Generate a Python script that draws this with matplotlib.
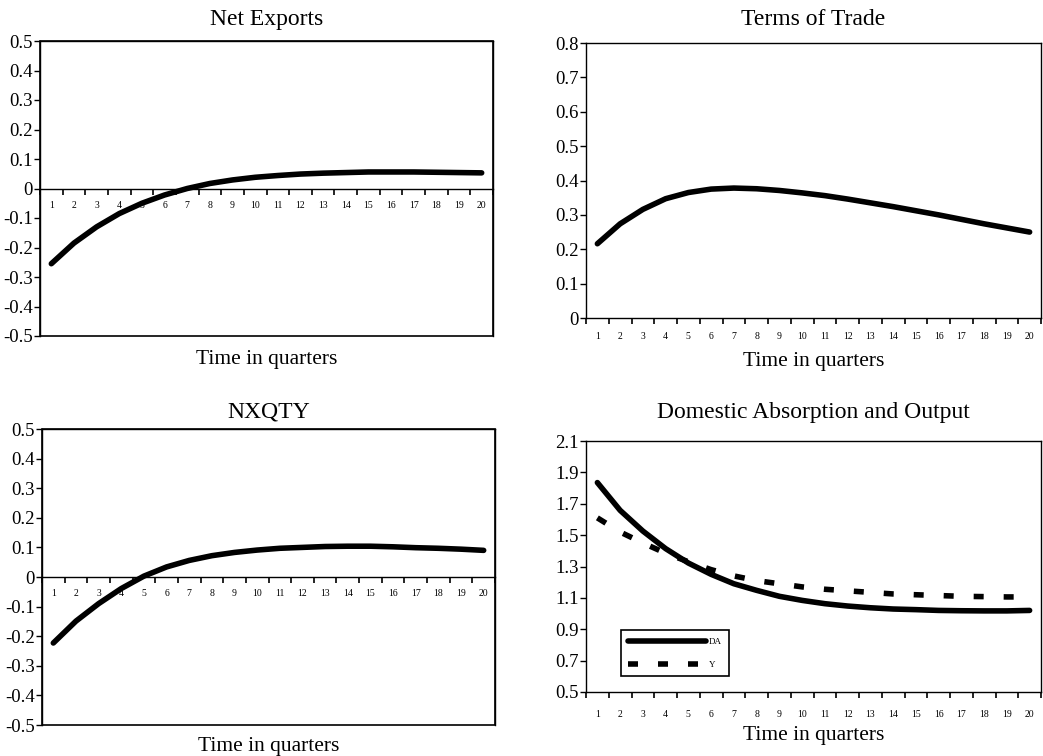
import numpy as np
import matplotlib
matplotlib.use("Agg")
from matplotlib import pyplot as plt
from matplotlib.ticker import FixedLocator, NullFormatter

plt.rcParams['font.family'] = ['Liberation Serif', 'DejaVu Serif']

quarters = list(range(1, 21))

net_exports = [-0.255, -0.185, -0.13, -0.085, -0.05, -0.022, 0.0, 0.017, 0.029, 0.038,
               0.044, 0.049, 0.052, 0.054, 0.056, 0.056, 0.056, 0.055, 0.054, 0.053]
terms_of_trade = [0.216, 0.274, 0.316, 0.347, 0.365, 0.375, 0.378, 0.376, 0.371, 0.364,
                  0.356, 0.346, 0.335, 0.324, 0.312, 0.300, 0.287, 0.274, 0.262, 0.250]
nxqty = [-0.223, -0.149, -0.09, -0.039, 0.003, 0.034, 0.056, 0.072, 0.083, 0.091,
         0.097, 0.100, 0.103, 0.104, 0.104, 0.102, 0.099, 0.097, 0.094, 0.090]
da = [1.835, 1.658, 1.526, 1.414, 1.322, 1.250, 1.190, 1.148, 1.110, 1.084,
      1.063, 1.048, 1.037, 1.029, 1.025, 1.020, 1.018, 1.017, 1.017, 1.020]
output_y = [1.61, 1.52, 1.45, 1.385, 1.33, 1.28, 1.24, 1.21, 1.19, 1.17,
            1.155, 1.145, 1.135, 1.125, 1.12, 1.115, 1.11, 1.108, 1.106, 1.106]

W, H = 1043, 756
fig = plt.figure(figsize=(W / 100, H / 100), dpi=100)


def make_axes(x0, y0, x1, y1):
    return fig.add_axes([x0 / W, 1 - y1 / H, (x1 - x0) / W, (y1 - y0) / H])


def style(ax, title, ylim, ystep, yfmt, zero_axis, label_pad, title_pad, xlabel_y):
    ax.set_xlim(0.5, 20.5)
    ax.set_ylim(*ylim)
    ax.set_title(title, fontsize=17, pad=title_pad)
    yt = np.round(np.arange(ylim[0], ylim[1] + ystep / 2, ystep), 2)
    ax.set_yticks(yt)
    ax.set_yticklabels([yfmt(v) for v in yt])
    ax.tick_params(axis='y', direction='out', length=4, width=1, labelsize=13.5, pad=1)
    # category boundaries carry the tick marks, centres carry the labels
    ax.xaxis.set_major_locator(FixedLocator(np.arange(0.5, 21, 1)))
    ax.xaxis.set_major_formatter(NullFormatter())
    ax.xaxis.set_minor_locator(FixedLocator(quarters))
    ax.set_xticklabels([str(q) for q in quarters], minor=True)
    ax.tick_params(axis='x', which='major', direction='out', length=4, width=1.2)
    ax.tick_params(axis='x', which='minor', length=0, labelsize=7, pad=label_pad)
    for s in ax.spines.values():
        s.set_linewidth(1)
    if zero_axis:
        ax.spines['bottom'].set_position(('data', 0))
        ax.patch.set_edgecolor('black')
        ax.patch.set_linewidth(1.2)
    ax.set_xlabel('Time in quarters', fontsize=15.5)
    ax.xaxis.set_label_coords(0.5, xlabel_y)


def fmt1(v):
    return '0' if v == 0 else '%.1f' % v


ax1 = make_axes(40, 41, 493, 336)
ax1.plot(quarters, net_exports, color='black', lw=4, solid_capstyle='round')
style(ax1, 'Net Exports', (-0.5, 0.5), 0.1, fmt1, True, 9, 11.5, -0.048)

ax2 = make_axes(586, 43, 1041, 318)
ax2.plot(quarters, terms_of_trade, color='black', lw=4, solid_capstyle='round')
style(ax2, 'Terms of Trade', (0, 0.8), 0.1, fmt1, False, 10, 13, -0.122)

ax3 = make_axes(42, 429, 495, 725)
ax3.plot(quarters, nxqty, color='black', lw=4, solid_capstyle='round')
style(ax3, 'NXQTY', (-0.5, 0.5), 0.1, fmt1, True, 9, 8, -0.04)

ax4 = make_axes(586, 441, 1041, 692)
ax4.plot(quarters, da, color='black', lw=4, solid_capstyle='round', label='DA')
ax4.plot(quarters, output_y, color='black', lw=4, ls=(0, (1.8, 3.6)), label='Y')
style(ax4, 'Domestic Absorption and Output', (0.5, 2.1), 0.2, fmt1, False, 13, 16.5, -0.135)
ax4.set_yticklabels(['%.1f' % v for v in np.round(np.arange(0.5, 2.15, 0.2), 1)])
leg = ax4.legend(loc='lower left', bbox_to_anchor=(0.077, 0.064), borderaxespad=0,
                 fontsize=6.5, handlelength=8.6, handletextpad=0.3, fancybox=False,
                 framealpha=1, edgecolor='black', borderpad=0.8, labelspacing=1.6)
leg.get_frame().set_linewidth(1.2)

fig.savefig('out.png', dpi=100)
